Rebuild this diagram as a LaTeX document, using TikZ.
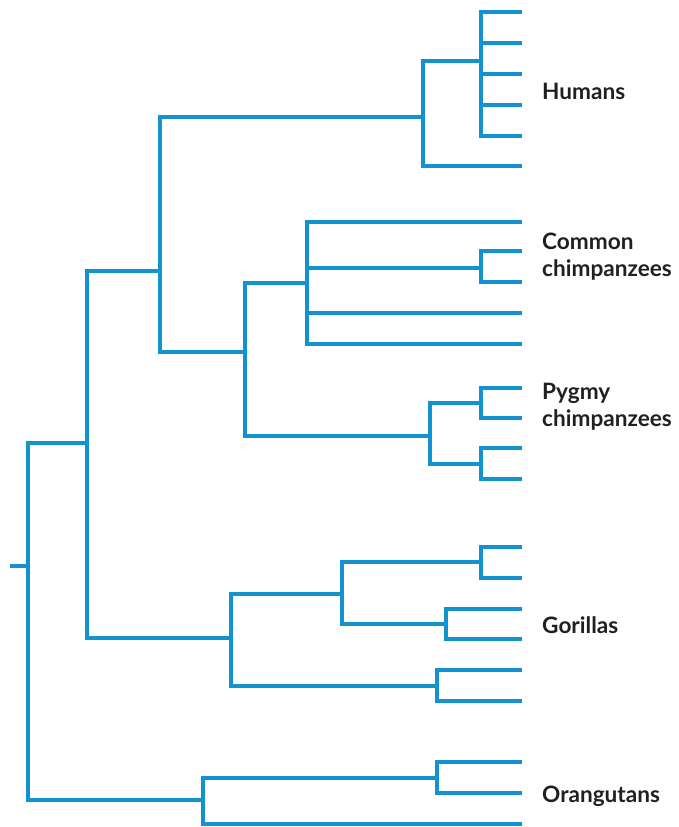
\documentclass[tikz,border=0pt]{standalone}
\usepackage{fontspec}
\setmainfont{Lato}
\definecolor{branch}{RGB}{19,146,209}
\definecolor{labeltext}{RGB}{35,31,32}
\begin{document}
\begin{tikzpicture}[x={(1pt,0)}, y={(0,-1pt)},
  edge/.style={draw=branch, line width=4.2pt, line join=miter},
  taxon/.style={anchor=base west, inner sep=0pt, font=\bfseries\fontsize{22.6}{27}\selectfont,
    text=labeltext, align=left}]
\useasboundingbox (0,0) rectangle (679,827);

% internal nodes (vertical bar x, attachment y)
\coordinate (stub) at (10,566);
\coordinate (root) at (28,566);
\coordinate (afr)  at (87,443);
\coordinate (hc)   at (160,271);
\coordinate (hum)  at (423,117);
\coordinate (hum5) at (481,61);
\coordinate (chp)  at (245,352);
\coordinate (com)  at (307,283);
\coordinate (com2) at (481,268);
\coordinate (pyg)  at (430,436);
\coordinate (pyg1) at (481,403);
\coordinate (pyg2) at (481,464);
\coordinate (gor)  at (231,638);
\coordinate (gor1) at (342,594);
\coordinate (gor11) at (481,562);
\coordinate (gor12) at (446,624);
\coordinate (gor2) at (437,686);
\coordinate (ora)  at (203,800);
\coordinate (ora1) at (437,778);

% leaves
\foreach \n/\y in {h1/12,h2/43,h3/74,h4/105,h5/136,h6/166,
                   c1/222,c2/251,c3/282,c4/313,c5/344,
                   p1/388,p2/418,p3/448,p4/479,
                   g1/547,g2/578,g3/609,g4/639,g5/670,g6/701,
                   o1/762,o2/793,o3/824}
  \coordinate (\n) at (522,\y);

% branches: from parent down/up to the child's level, then across
\draw[edge] (stub) -- (root);
\foreach \p/\c in {root/afr, root/ora,
                   afr/hc, afr/gor,
                   hc/hum, hc/chp,
                   hum/hum5, hum/h6,
                   hum5/h1, hum5/h2, hum5/h3, hum5/h4, hum5/h5,
                   chp/com, chp/pyg,
                   com/c1, com/com2, com/c4, com/c5,
                   com2/c2, com2/c3,
                   pyg/pyg1, pyg/pyg2,
                   pyg1/p1, pyg1/p2, pyg2/p3, pyg2/p4,
                   gor/gor1, gor/gor2,
                   gor1/gor11, gor1/gor12,
                   gor11/g1, gor11/g2, gor12/g3, gor12/g4,
                   gor2/g5, gor2/g6,
                   ora/ora1, ora/o3,
                   ora1/o1, ora1/o2}
  \draw[edge] (\p) |- (\c);

% group labels
\node[taxon] (lhum) at (542,99)  {Humans};
\node[taxon] (lcom) at (542,276) {Common\\chimpanzees};
\node[taxon] (lpyg) at (542,426) {Pygmy\\chimpanzees};
\node[taxon] (lgor) at (542,633) {Gorillas};
\node[taxon] (lora) at (542,802) {Orangutans};
\end{tikzpicture}
\end{document}
